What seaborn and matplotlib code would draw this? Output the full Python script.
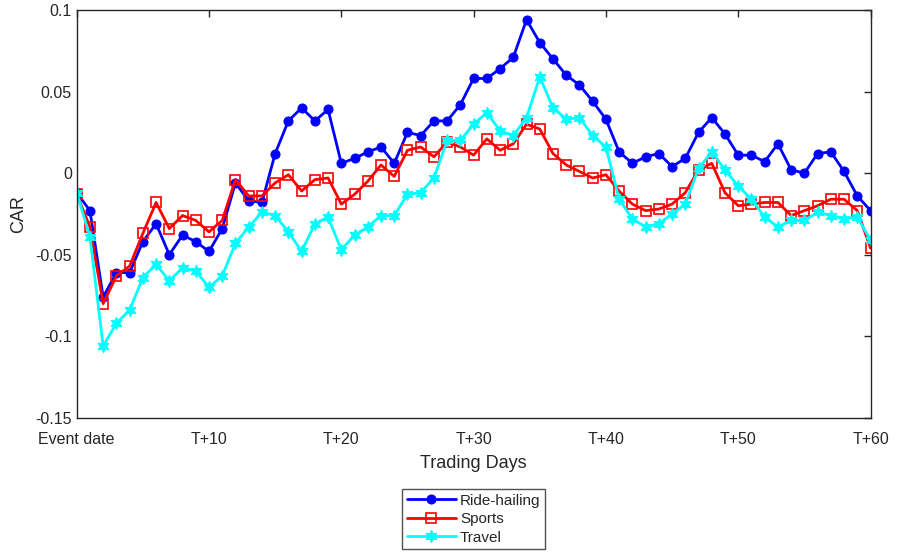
import numpy as np
import pandas as pd
import matplotlib
matplotlib.use("Agg")
import matplotlib.pyplot as plt
import seaborn as sns

days = list(range(61))
tick_positions = [0, 10, 20, 30, 40, 50, 60]
tick_labels = ["Event date", "T+10", "T+20", "T+30", "T+40", "T+50", "T+60"]

ride_hailing = [
    -0.012, -0.023, -0.076, -0.061, -0.061, -0.042, -0.031, -0.050, -0.038, -0.042,
    -0.048, -0.034, -0.006, -0.017, -0.018, 0.012, 0.032, 0.040, 0.032, 0.039,
    0.006, 0.009, 0.013, 0.016, 0.006, 0.025, 0.023, 0.032, 0.032, 0.042,
    0.058, 0.058, 0.064, 0.071, 0.094, 0.080, 0.070, 0.060, 0.054, 0.044,
    0.033, 0.013, 0.006, 0.010, 0.012, 0.004, 0.009, 0.025, 0.034, 0.024,
    0.011, 0.011, 0.007, 0.018, 0.002, 0.000, 0.012, 0.013, 0.001, -0.014,
    -0.023,
]
sports = [
    -0.013, -0.033, -0.080, -0.063, -0.057, -0.037, -0.018, -0.034, -0.026, -0.029,
    -0.036, -0.029, -0.004, -0.014, -0.014, -0.006, -0.001, -0.011, -0.004, -0.003,
    -0.019, -0.013, -0.005, 0.005, -0.002, 0.014, 0.016, 0.010, 0.019, 0.016,
    0.011, 0.021, 0.014, 0.018, 0.030, 0.027, 0.012, 0.005, 0.001, -0.003,
    -0.001, -0.011, -0.019, -0.023, -0.022, -0.019, -0.012, 0.002, 0.006, -0.012,
    -0.020, -0.019, -0.018, -0.018, -0.026, -0.023, -0.020, -0.016, -0.016, -0.023,
    -0.046,
]
travel = [
    -0.012, -0.039, -0.106, -0.092, -0.084, -0.064, -0.056, -0.066, -0.058, -0.060,
    -0.070, -0.063, -0.043, -0.033, -0.024, -0.026, -0.036, -0.048, -0.031, -0.027,
    -0.047, -0.038, -0.033, -0.026, -0.026, -0.013, -0.012, -0.003, 0.020, 0.020,
    0.030, 0.037, 0.026, 0.023, 0.034, 0.059, 0.040, 0.033, 0.034, 0.023,
    0.016, -0.016, -0.028, -0.033, -0.031, -0.025, -0.019, 0.003, 0.013, 0.002,
    -0.008, -0.016, -0.027, -0.033, -0.029, -0.029, -0.024, -0.026, -0.028, -0.027,
    -0.041,
]

sns.set_theme(style="white")
plt.rcParams["font.family"] = ["Liberation Sans", "DejaVu Sans"]

fig = plt.figure(figsize=(8.97, 5.52), dpi=100)
ax = fig.add_axes([0.0855, 0.243, 0.885, 0.739])

series = [
    ("Ride-hailing", ride_hailing, "#0000ff", "o", dict(markersize=6.5, markerfacecolor="#0000ff")),
    ("Sports", sports, "#ff0000", "s", dict(markersize=6.5, markerfacecolor="none", markeredgewidth=1.2)),
    ("Travel", travel, "#00ffff", (6, 1, 0), dict(markersize=9, markerfacecolor="#00ffff")),
]
for name, vals, color, marker, kw in series:
    df = pd.DataFrame({"day": days, "CAR": vals})
    sns.lineplot(data=df, x="day", y="CAR", ax=ax, color=color, marker=marker,
                 linewidth=2, markeredgecolor=color, label=name, **kw)

ax.set_xlim(0, 60)
ax.set_ylim(-0.15, 0.1)
ax.set_xticks(tick_positions)
ax.set_xticklabels(tick_labels)
ax.set_yticks([-0.15, -0.1, -0.05, 0, 0.05, 0.1])
ax.set_yticklabels(["-0.15", "-0.1", "-0.05", "0", "0.05", "0.1"])
ax.tick_params(axis="both", direction="in", length=5, width=1, colors="#262626",
               labelsize=11.5, top=True, right=True, labelcolor="#262626")
ax.tick_params(axis="x", pad=10)
for s in ax.spines.values():
    s.set_color("#262626")
    s.set_linewidth(1)
ax.set_xlabel("Trading Days", fontsize=13, color="#262626", labelpad=6)
ax.set_ylabel("CAR", fontsize=13, color="#262626", labelpad=6)

ax.get_legend().remove()
handles, labels = ax.get_legend_handles_labels()
leg = fig.legend(handles, labels, loc="upper center", bbox_to_anchor=(0.528, 0.128),
                 fontsize=11, frameon=True, fancybox=False, edgecolor="#262626",
                 borderpad=0.3, labelspacing=0.3, handlelength=3.2, handletextpad=0.3)
leg.get_frame().set_linewidth(1)

fig.savefig("out.png", dpi=100)
